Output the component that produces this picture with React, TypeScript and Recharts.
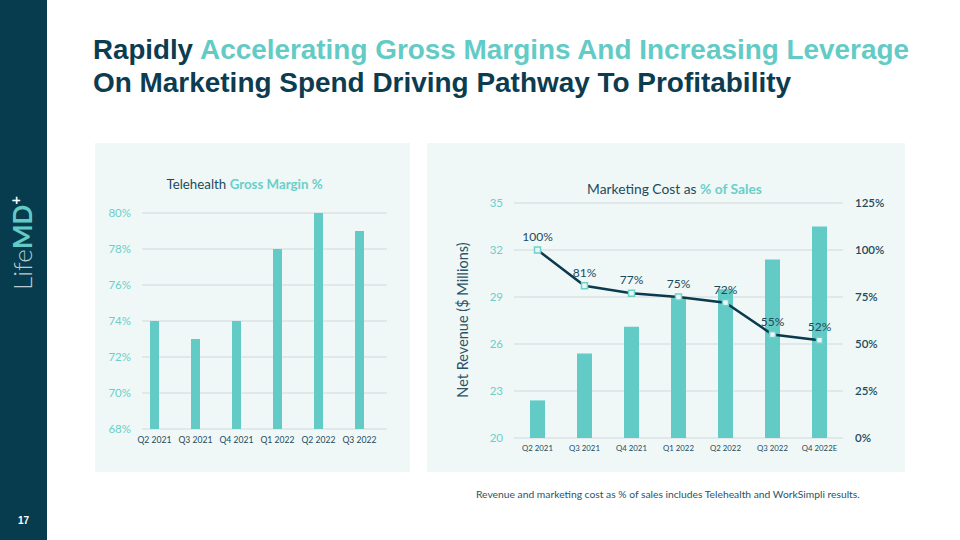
import React from 'react';
import {
  BarChart,
  Bar,
  ComposedChart,
  Line,
  XAxis,
  YAxis,
  CartesianGrid,
} from 'recharts';

// ---- Data ----
const gmCategories = ['Q2 2021', 'Q3 2021', 'Q4 2021', 'Q1 2022', 'Q2 2022', 'Q3 2022'];
const gmValues = [74, 73, 74, 78, 80, 79];
const gmTicks = [68, 70, 72, 74, 76, 78, 80];

const mkCategories = ['Q2 2021', 'Q3 2021', 'Q4 2021', 'Q1 2022', 'Q2 2022', 'Q3 2022', 'Q4 2022E'];
const revenueValues = [22.4, 25.4, 27.1, 29.0, 29.5, 31.4, 33.5];
const marketingPct = [100, 81, 77, 75, 72, 55, 52];
const revenueTicks = [20, 23, 26, 29, 32, 35];
const pctTicks = [0, 25, 50, 75, 100, 125];

const gmData = gmCategories.map((cat, i) => ({ cat, gm: gmValues[i] }));
const mkData = mkCategories.map((cat, i) => ({ cat, rev: revenueValues[i], pct: marketingPct[i] }));

// ---- Styles ----
const DARK = '#0C3C50';
const TEAL = '#63CBC6';
const TEAL_TEXT = '#6ACFC9';
const PANEL = '#EFF8F7';
const GRID = '#DCE3E4';
const SANS = "Lato, 'Noto Sans', sans-serif";

const gridLine = (offset: number) => (p: any) => (
  <line
    key={p.key}
    x1={p.x1 + offset}
    y1={p.y1}
    x2={p.x2}
    y2={p.y2}
    stroke={GRID}
    strokeWidth={1.5}
  />
);

const squareDot = (p: any) => (
  <rect
    key={p.key}
    x={p.cx - 3}
    y={p.cy - 3}
    width={6}
    height={6}
    fill="#E8F7F5"
    stroke="#6FD0C9"
    strokeWidth={1.5}
  />
);

const pctLabel = (p: any) => (
  <text
    key={`lbl-${p.index}`}
    x={p.x}
    y={p.y - 9}
    textAnchor="middle"
    fontSize={12}
    fontFamily={SANS}
    fill="#1E4A5B"
  >
    {p.value}%
  </text>
);

export default function App() {
  return (
    <div
      style={{
        position: 'absolute',
        left: 0,
        top: 0,
        width: 960,
        height: 540,
        background: '#FFFFFF',
        overflow: 'hidden',
        fontFamily: SANS,
      }}
    >
      {/* Sidebar */}
      <div style={{ position: 'absolute', left: 0, top: 0, width: 47, height: 540, background: '#073C4F' }} />
      <div
        style={{
          position: 'absolute',
          left: 22 - 60,
          top: 243 - 16,
          width: 120,
          height: 32,
          lineHeight: '32px',
          textAlign: 'center',
          transform: 'rotate(-90deg)',
          fontSize: 26,
          whiteSpace: 'nowrap',
        }}
      >
        <span style={{ color: '#B7CCD3', fontWeight: 300 }}>Life</span>
        <span style={{ color: TEAL, fontWeight: 700 }}>MD</span>
        <span style={{ color: '#FFFFFF', fontWeight: 700, fontSize: 15, verticalAlign: 'top', position: 'relative', top: -7 }}>+</span>
      </div>
      <div
        style={{
          position: 'absolute',
          left: 0,
          width: 47,
          top: 515,
          textAlign: 'center',
          color: '#FFFFFF',
          fontSize: 10,
          fontWeight: 700,
          fontFamily: "'Liberation Sans', Arial, sans-serif",
        }}
      >
        17
      </div>

      {/* Headline */}
      <svg style={{ position: 'absolute', left: 0, top: 0 }} width={960} height={110}>
        <g fontFamily="'Liberation Sans', Arial, sans-serif" fontWeight={700} fontSize={28}>
          <text x={93} y={59} fill={DARK} textLength={100} lengthAdjust="spacingAndGlyphs">
            Rapidly
          </text>
          <text x={200} y={59} fill={TEAL} textLength={709} lengthAdjust="spacingAndGlyphs">
            Accelerating Gross Margins And Increasing Leverage
          </text>
          <text x={93} y={92} fill={DARK} textLength={698} lengthAdjust="spacingAndGlyphs">
            On Marketing Spend Driving Pathway To Profitability
          </text>
        </g>
      </svg>

      {/* Panels */}
      <div style={{ position: 'absolute', left: 95, top: 143, width: 315, height: 329, background: PANEL }} />
      <div style={{ position: 'absolute', left: 427, top: 143, width: 478, height: 329, background: PANEL }} />

      {/* Left chart title */}
      <div
        style={{
          position: 'absolute',
          left: 244.5 - 120,
          width: 240,
          top: 176,
          textAlign: 'center',
          fontSize: 13.3,
          whiteSpace: 'nowrap',
        }}
      >
        <span style={{ color: '#1E4A5B' }}>Telehealth </span>
        <span style={{ color: TEAL_TEXT, fontWeight: 700 }}>Gross Margin %</span>
      </div>

      {/* Left chart */}
      <div style={{ position: 'absolute', left: 95, top: 143 }}>
        <BarChart width={315} height={329} data={gmData} margin={{ top: 70, right: 23, bottom: 23, left: 0 }}>
          <CartesianGrid vertical={false} horizontal={gridLine(8)} />
          <XAxis
            dataKey="cat"
            axisLine={false}
            tickLine={false}
            interval={0}
            height={20}
            padding={{ left: 0, right: 7 }}
            tickSize={6}
            tickMargin={2}
            tick={{ fontSize: 8.6, fill: '#1E4A5B', fontFamily: SANS }}
          />
          <YAxis
            domain={[68, 80]}
            ticks={gmTicks}
            width={39}
            axisLine={false}
            tickLine={false}
            tickSize={1}
            tickMargin={2}
            tickFormatter={(v: number) => `${v}%`}
            tick={{ fontSize: 11.5, fill: TEAL_TEXT, fontFamily: SANS }}
          />
          <Bar dataKey="gm" fill={TEAL} barSize={9} isAnimationActive={false} />
        </BarChart>
      </div>

      {/* Right chart title */}
      <div
        style={{
          position: 'absolute',
          left: 674.5 - 130,
          width: 260,
          top: 180,
          textAlign: 'center',
          fontSize: 13.8,
          whiteSpace: 'nowrap',
        }}
      >
        <span style={{ color: '#1E4A5B' }}>Marketing Cost as </span>
        <span style={{ color: TEAL_TEXT, fontWeight: 700 }}>% of Sales</span>
      </div>

      {/* Right axis label */}
      <div
        style={{
          position: 'absolute',
          left: 463 - 100,
          top: 320 - 10,
          width: 200,
          height: 20,
          lineHeight: '20px',
          textAlign: 'center',
          transform: 'rotate(-90deg)',
          fontSize: 14.5,
          color: '#2A5466',
          whiteSpace: 'nowrap',
        }}
      >
        Net Revenue ($ Millions)
      </div>

      {/* Right chart */}
      <div style={{ position: 'absolute', left: 427, top: 143 }}>
        <ComposedChart width={478} height={329} data={mkData} margin={{ top: 60, right: 12, bottom: 14, left: 0 }}>
          <CartesianGrid vertical={false} yAxisId="left" horizontal={gridLine(0)} />
          <XAxis
            dataKey="cat"
            axisLine={false}
            tickLine={false}
            interval={0}
            height={20}
            tickSize={6}
            tickMargin={1}
            tick={{ fontSize: 7.8, fill: '#1E4A5B', fontFamily: SANS }}
          />
          <YAxis
            yAxisId="left"
            domain={[20, 35]}
            ticks={revenueTicks}
            width={87}
            axisLine={false}
            tickLine={false}
            tickSize={4}
            tickMargin={7}
            tick={{ fontSize: 11.5, fill: TEAL_TEXT, fontFamily: SANS }}
          />
          <YAxis
            yAxisId="right"
            orientation="right"
            domain={[0, 125]}
            ticks={pctTicks}
            width={50}
            axisLine={false}
            tickLine={false}
            tickSize={4}
            tickMargin={8}
            tickFormatter={(v: number) => `${v}%`}
            tick={{ fontSize: 11.5, fill: '#1E4A5B', fontFamily: SANS, fontWeight: 600, textAnchor: 'start' }}
          />
          <Bar yAxisId="left" dataKey="rev" fill={TEAL} barSize={15} isAnimationActive={false} />
          <Line
            yAxisId="right"
            dataKey="pct"
            stroke="#0B394D"
            strokeWidth={2.5}
            dot={squareDot}
            activeDot={false}
            label={pctLabel}
            isAnimationActive={false}
          />
        </ComposedChart>
      </div>

      {/* Footnote */}
      <div
        style={{
          position: 'absolute',
          left: 476,
          top: 488,
          fontSize: 10.3,
          color: '#2A5466',
          whiteSpace: 'nowrap',
        }}
      >
        Revenue and marketing cost as % of sales includes Telehealth and WorkSimpli results.
      </div>
    </div>
  );
}
